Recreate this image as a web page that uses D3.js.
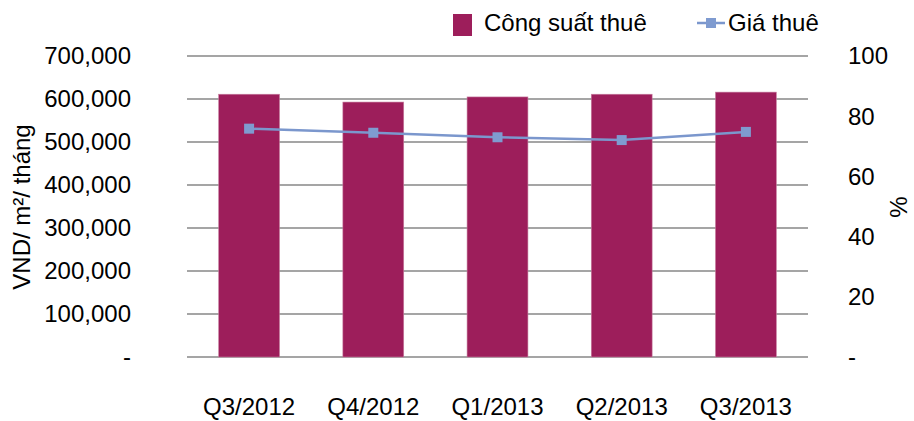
<!DOCTYPE html>
<html>
<head>
<meta charset="utf-8">
<script src="https://cdn.jsdelivr.net/npm/d3@7"></script>
<style>
  body { margin: 0; background: #fff; }
  text { font-family: "Liberation Sans", Arial, sans-serif; fill: #000; }
</style>
</head>
<body>
<div id="chart"></div>
<script>
// Data
var quarters = ["Q3/2012", "Q4/2012", "Q1/2013", "Q2/2013", "Q3/2013"];
var occupancy = [87.3, 84.7, 86.4, 87.3, 88.0];          // Công suất thuê (%)
var rent = [531000, 521500, 511000, 504500, 523500];     // Giá thuê (VND/m²/tháng)
var leftTicks = [0, 100000, 200000, 300000, 400000, 500000, 600000, 700000];
var rightTicks = [0, 20, 40, 60, 80, 100];

var width = 914;
var height = 421;
var plot = { left: 187, right: 808, top: 56, bottom: 357 };

var svg = d3.select("#chart")
    .append("svg")
    .attr("width", width)
    .attr("height", height);

// Scales
var x = d3.scaleBand()
    .domain(quarters)
    .range([plot.left, plot.right])
    .paddingInner(0.51)
    .paddingOuter(0.255);

var yLeft = d3.scaleLinear()
    .domain([0, 700000])
    .range([plot.bottom, plot.top]);

var yRight = d3.scaleLinear()
    .domain([0, 100])
    .range([plot.bottom, plot.top]);

var fmtLeft = d3.format(",");

// Grid lines
svg.append("g")
    .selectAll("line")
    .data(leftTicks)
    .enter()
    .append("line")
    .attr("x1", plot.left)
    .attr("x2", plot.right)
    .attr("y1", function (d) { return yLeft(d); })
    .attr("y2", function (d) { return yLeft(d); })
    .attr("stroke", "#878787")
    .attr("stroke-width", 1.5);

// Left axis labels
svg.append("g")
    .selectAll("text")
    .data(leftTicks)
    .enter()
    .append("text")
    .attr("x", 131)
    .attr("y", function (d) { return yLeft(d); })
    .attr("dy", "0.35em")
    .attr("text-anchor", "end")
    .style("font-size", "24px")
    .text(function (d) { return d === 0 ? "-" : fmtLeft(d); });

// Right axis labels
svg.append("g")
    .selectAll("text")
    .data(rightTicks)
    .enter()
    .append("text")
    .attr("x", 848)
    .attr("y", function (d) { return yRight(d); })
    .attr("dy", "0.35em")
    .attr("text-anchor", "start")
    .style("font-size", "24px")
    .text(function (d) { return d === 0 ? "-" : d; });

// Axis titles
svg.append("text")
    .attr("transform", "translate(30,207) rotate(-90)")
    .attr("text-anchor", "middle")
    .style("font-size", "24px")
    .text("VND/ m²/ tháng");

svg.append("text")
    .attr("transform", "translate(907,207) rotate(-90)")
    .attr("text-anchor", "middle")
    .style("font-size", "24px")
    .text("%");

// Bars (occupancy on right axis)
svg.append("g")
    .selectAll("rect")
    .data(occupancy)
    .enter()
    .append("rect")
    .attr("x", function (d, i) { return x(quarters[i]); })
    .attr("y", function (d) { return yRight(d); })
    .attr("width", x.bandwidth())
    .attr("height", function (d) { return plot.bottom - yRight(d); })
    .attr("fill", "#9d1e5b")
    .attr("stroke", "#c77fa0")
    .attr("stroke-width", 0.6);

// Line (rent on left axis)
var line = d3.line()
    .x(function (d, i) { return x(quarters[i]) + x.bandwidth() / 2; })
    .y(function (d) { return yLeft(d); });

svg.append("path")
    .datum(rent)
    .attr("d", line)
    .attr("fill", "none")
    .attr("stroke", "#7b97cd")
    .attr("stroke-width", 2.5);

svg.append("g")
    .selectAll("rect")
    .data(rent)
    .enter()
    .append("rect")
    .attr("x", function (d, i) { return x(quarters[i]) + x.bandwidth() / 2 - 5; })
    .attr("y", function (d) { return yLeft(d) - 5; })
    .attr("width", 10)
    .attr("height", 10)
    .attr("fill", "#7f9bd0");

// X labels
svg.append("g")
    .selectAll("text")
    .data(quarters)
    .enter()
    .append("text")
    .attr("x", function (d) { return x(d) + x.bandwidth() / 2; })
    .attr("y", 415)
    .attr("text-anchor", "middle")
    .style("font-size", "24px")
    .text(function (d) { return d; });

// Legend
var legend = svg.append("g");
legend.append("rect")
    .attr("x", 453)
    .attr("y", 14)
    .attr("width", 19)
    .attr("height", 22)
    .attr("fill", "#9d1e5b");
legend.append("text")
    .attr("x", 484)
    .attr("y", 31)
    .style("font-size", "24px")
    .text("Công suất thuê");

legend.append("line")
    .attr("x1", 697)
    .attr("x2", 725)
    .attr("y1", 23)
    .attr("y2", 23)
    .attr("stroke", "#7b97cd")
    .attr("stroke-width", 2.5);
legend.append("rect")
    .attr("x", 706)
    .attr("y", 18)
    .attr("width", 10)
    .attr("height", 10)
    .attr("fill", "#7f9bd0");
legend.append("text")
    .attr("x", 728)
    .attr("y", 31)
    .style("font-size", "24px")
    .text("Giá thuê");
</script>
</body>
</html>
